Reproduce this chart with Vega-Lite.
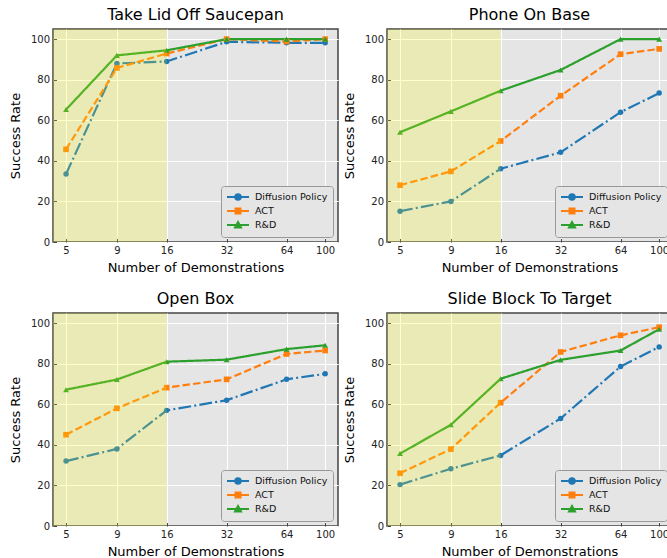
{
  "$schema": "https://vega.github.io/schema/vega-lite/v6.json",
  "padding": {"left": 8, "top": 6, "right": 0, "bottom": 0},
  "background": "white",
  "datasets": {
    "span": [{"region": "few demonstrations"}],
    "lid": [
      {"demos": 5, "method": "Diffusion Policy", "rate": 33.5},
      {"demos": 9, "method": "Diffusion Policy", "rate": 88},
      {"demos": 16, "method": "Diffusion Policy", "rate": 89},
      {"demos": 32, "method": "Diffusion Policy", "rate": 98.7},
      {"demos": 64, "method": "Diffusion Policy", "rate": 98.2},
      {"demos": 100, "method": "Diffusion Policy", "rate": 98.2},
      {"demos": 5, "method": "ACT", "rate": 45.7},
      {"demos": 9, "method": "ACT", "rate": 85.8},
      {"demos": 16, "method": "ACT", "rate": 92.9},
      {"demos": 32, "method": "ACT", "rate": 100},
      {"demos": 64, "method": "ACT", "rate": 98.8},
      {"demos": 100, "method": "ACT", "rate": 100},
      {"demos": 5, "method": "R&D", "rate": 65.3},
      {"demos": 9, "method": "R&D", "rate": 92},
      {"demos": 16, "method": "R&D", "rate": 94.5},
      {"demos": 32, "method": "R&D", "rate": 100},
      {"demos": 64, "method": "R&D", "rate": 100},
      {"demos": 100, "method": "R&D", "rate": 100}
    ],
    "phone": [
      {"demos": 5, "method": "Diffusion Policy", "rate": 15.2},
      {"demos": 9, "method": "Diffusion Policy", "rate": 20},
      {"demos": 16, "method": "Diffusion Policy", "rate": 36.1},
      {"demos": 32, "method": "Diffusion Policy", "rate": 44.2},
      {"demos": 64, "method": "Diffusion Policy", "rate": 64},
      {"demos": 100, "method": "Diffusion Policy", "rate": 73.4},
      {"demos": 5, "method": "ACT", "rate": 28},
      {"demos": 9, "method": "ACT", "rate": 34.8},
      {"demos": 16, "method": "ACT", "rate": 49.8},
      {"demos": 32, "method": "ACT", "rate": 72.1},
      {"demos": 64, "method": "ACT", "rate": 92.6},
      {"demos": 100, "method": "ACT", "rate": 95.2},
      {"demos": 5, "method": "R&D", "rate": 54.1},
      {"demos": 9, "method": "R&D", "rate": 64.4},
      {"demos": 16, "method": "R&D", "rate": 74.6},
      {"demos": 32, "method": "R&D", "rate": 84.8},
      {"demos": 64, "method": "R&D", "rate": 100},
      {"demos": 100, "method": "R&D", "rate": 100}
    ],
    "box": [
      {"demos": 5, "method": "Diffusion Policy", "rate": 32},
      {"demos": 9, "method": "Diffusion Policy", "rate": 38},
      {"demos": 16, "method": "Diffusion Policy", "rate": 57},
      {"demos": 32, "method": "Diffusion Policy", "rate": 62},
      {"demos": 64, "method": "Diffusion Policy", "rate": 72.3},
      {"demos": 100, "method": "Diffusion Policy", "rate": 75},
      {"demos": 5, "method": "ACT", "rate": 45},
      {"demos": 9, "method": "ACT", "rate": 58},
      {"demos": 16, "method": "ACT", "rate": 68.2},
      {"demos": 32, "method": "ACT", "rate": 72.3},
      {"demos": 64, "method": "ACT", "rate": 84.8},
      {"demos": 100, "method": "ACT", "rate": 86.5},
      {"demos": 5, "method": "R&D", "rate": 67.2},
      {"demos": 9, "method": "R&D", "rate": 72.2},
      {"demos": 16, "method": "R&D", "rate": 81},
      {"demos": 32, "method": "R&D", "rate": 82},
      {"demos": 64, "method": "R&D", "rate": 87.2},
      {"demos": 100, "method": "R&D", "rate": 89.1}
    ],
    "slide": [
      {"demos": 5, "method": "Diffusion Policy", "rate": 20.4},
      {"demos": 9, "method": "Diffusion Policy", "rate": 28.2},
      {"demos": 16, "method": "Diffusion Policy", "rate": 34.8},
      {"demos": 32, "method": "Diffusion Policy", "rate": 53},
      {"demos": 64, "method": "Diffusion Policy", "rate": 78.6},
      {"demos": 100, "method": "Diffusion Policy", "rate": 88.3},
      {"demos": 5, "method": "ACT", "rate": 26},
      {"demos": 9, "method": "ACT", "rate": 37.9},
      {"demos": 16, "method": "ACT", "rate": 60.8},
      {"demos": 32, "method": "ACT", "rate": 85.8},
      {"demos": 64, "method": "ACT", "rate": 94},
      {"demos": 100, "method": "ACT", "rate": 98},
      {"demos": 5, "method": "R&D", "rate": 35.7},
      {"demos": 9, "method": "R&D", "rate": 49.9},
      {"demos": 16, "method": "R&D", "rate": 72.6},
      {"demos": 32, "method": "R&D", "rate": 81.9},
      {"demos": 64, "method": "R&D", "rate": 86.5},
      {"demos": 100, "method": "R&D", "rate": 97}
    ]
  },
  "columns": 2,
  "spacing": {"column": 3, "row": 14},
  "resolve": {"legend": {"color": "independent"}},
  "concat": [
    {
      "title": "Take Lid Off Saucepan",
      "width": 285, "height": 213,
      "data": {"name": "lid"},
      "layer": [
        {"mark": {"type": "line", "strokeWidth": 2.2},
         "encoding": {
           "x": {"field": "demos", "type": "quantitative", "scale": {"type": "log", "domain": [4.3, 116], "nice": false}, "axis": {"values": [5, 9, 16, 32, 64, 100], "title": "Number of Demonstrations"}},
           "y": {"field": "rate", "type": "quantitative", "scale": {"domain": [0, 105], "nice": false}, "axis": {"values": [0, 20, 40, 60, 80, 100], "title": "Success Rate"}},
           "color": {"field": "method", "type": "nominal", "sort": ["Diffusion Policy", "ACT", "R&D"], "scale": {"domain": ["Diffusion Policy", "ACT", "R&D"], "range": ["#1f77b4", "#ff7f0e", "#2ca02c"]},
             "legend": {"title": null, "encode": {"symbols": {"update": {
               "shape": {"signal": "datum.value === 'ACT' ? 'M-1,0H3.4M0.7,-0.5H1.7V0.5H0.7Z' : datum.value === 'R&D' ? 'M-1,0H3.4M1.2,-0.6L1.8,0.5H0.6Z' : 'M-1,0H3.4M0.65,0A0.55,0.55 0 1,0 1.75,0A0.55,0.55 0 1,0 0.65,0Z'"},
               "fill": {"signal": "datum.value === 'ACT' ? '#ff7f0e' : datum.value === 'R&D' ? '#2ca02c' : '#1f77b4'"},
               "stroke": {"signal": "datum.value === 'ACT' ? '#ff7f0e' : datum.value === 'R&D' ? '#2ca02c' : '#1f77b4'"},
               "fillOpacity": {"value": 1}, "strokeOpacity": {"value": 1}, "strokeWidth": {"value": 2}, "strokeDash": {"value": []}}}}}},
           "strokeDash": {"field": "method", "type": "nominal", "scale": {"domain": ["Diffusion Policy", "ACT", "R&D"], "range": [[12.8, 3.2, 2, 3.2], [7.4, 3.2], [1, 0]]}, "legend": null}
         }},
        {"mark": {"type": "point", "filled": true, "opacity": 1},
         "encoding": {
           "x": {"field": "demos", "type": "quantitative"},
           "y": {"field": "rate", "type": "quantitative"},
           "color": {"field": "method", "type": "nominal"},
           "shape": {"field": "method", "type": "nominal", "scale": {"domain": ["Diffusion Policy", "ACT", "R&D"], "range": ["circle", "square", "triangle-up"]}, "legend": null},
           "size": {"field": "method", "type": "nominal", "scale": {"domain": ["Diffusion Policy", "ACT", "R&D"], "range": [30, 34, 32]}, "legend": null}
         }},
        {"data": {"name": "span"},
         "mark": {"type": "rect", "color": "#ffff00", "fillOpacity": 0.2},
         "encoding": {"x": {"datum": 4.3}, "x2": {"datum": 16}, "y": {"datum": 0}, "y2": {"datum": 105}}}
      ]
    },
    {
      "title": "Phone On Base",
      "width": 285, "height": 213,
      "data": {"name": "phone"},
      "layer": [
        {"mark": {"type": "line", "strokeWidth": 2.2},
         "encoding": {
           "x": {"field": "demos", "type": "quantitative", "scale": {"type": "log", "domain": [4.3, 116], "nice": false}, "axis": {"values": [5, 9, 16, 32, 64, 100], "title": "Number of Demonstrations"}},
           "y": {"field": "rate", "type": "quantitative", "scale": {"domain": [0, 105], "nice": false}, "axis": {"values": [0, 20, 40, 60, 80, 100], "title": "Success Rate"}},
           "color": {"field": "method", "type": "nominal", "sort": ["Diffusion Policy", "ACT", "R&D"], "scale": {"domain": ["Diffusion Policy", "ACT", "R&D"], "range": ["#1f77b4", "#ff7f0e", "#2ca02c"]},
             "legend": {"title": null, "encode": {"symbols": {"update": {
               "shape": {"signal": "datum.value === 'ACT' ? 'M-1,0H3.4M0.7,-0.5H1.7V0.5H0.7Z' : datum.value === 'R&D' ? 'M-1,0H3.4M1.2,-0.6L1.8,0.5H0.6Z' : 'M-1,0H3.4M0.65,0A0.55,0.55 0 1,0 1.75,0A0.55,0.55 0 1,0 0.65,0Z'"},
               "fill": {"signal": "datum.value === 'ACT' ? '#ff7f0e' : datum.value === 'R&D' ? '#2ca02c' : '#1f77b4'"},
               "stroke": {"signal": "datum.value === 'ACT' ? '#ff7f0e' : datum.value === 'R&D' ? '#2ca02c' : '#1f77b4'"},
               "fillOpacity": {"value": 1}, "strokeOpacity": {"value": 1}, "strokeWidth": {"value": 2}, "strokeDash": {"value": []}}}}}},
           "strokeDash": {"field": "method", "type": "nominal", "scale": {"domain": ["Diffusion Policy", "ACT", "R&D"], "range": [[12.8, 3.2, 2, 3.2], [7.4, 3.2], [1, 0]]}, "legend": null}
         }},
        {"mark": {"type": "point", "filled": true, "opacity": 1},
         "encoding": {
           "x": {"field": "demos", "type": "quantitative"},
           "y": {"field": "rate", "type": "quantitative"},
           "color": {"field": "method", "type": "nominal"},
           "shape": {"field": "method", "type": "nominal", "scale": {"domain": ["Diffusion Policy", "ACT", "R&D"], "range": ["circle", "square", "triangle-up"]}, "legend": null},
           "size": {"field": "method", "type": "nominal", "scale": {"domain": ["Diffusion Policy", "ACT", "R&D"], "range": [30, 34, 32]}, "legend": null}
         }},
        {"data": {"name": "span"},
         "mark": {"type": "rect", "color": "#ffff00", "fillOpacity": 0.2},
         "encoding": {"x": {"datum": 4.3}, "x2": {"datum": 16}, "y": {"datum": 0}, "y2": {"datum": 105}}}
      ]
    },
    {
      "title": "Open Box",
      "width": 285, "height": 213,
      "data": {"name": "box"},
      "layer": [
        {"mark": {"type": "line", "strokeWidth": 2.2},
         "encoding": {
           "x": {"field": "demos", "type": "quantitative", "scale": {"type": "log", "domain": [4.3, 116], "nice": false}, "axis": {"values": [5, 9, 16, 32, 64, 100], "title": "Number of Demonstrations"}},
           "y": {"field": "rate", "type": "quantitative", "scale": {"domain": [0, 105], "nice": false}, "axis": {"values": [0, 20, 40, 60, 80, 100], "title": "Success Rate"}},
           "color": {"field": "method", "type": "nominal", "sort": ["Diffusion Policy", "ACT", "R&D"], "scale": {"domain": ["Diffusion Policy", "ACT", "R&D"], "range": ["#1f77b4", "#ff7f0e", "#2ca02c"]},
             "legend": {"title": null, "encode": {"symbols": {"update": {
               "shape": {"signal": "datum.value === 'ACT' ? 'M-1,0H3.4M0.7,-0.5H1.7V0.5H0.7Z' : datum.value === 'R&D' ? 'M-1,0H3.4M1.2,-0.6L1.8,0.5H0.6Z' : 'M-1,0H3.4M0.65,0A0.55,0.55 0 1,0 1.75,0A0.55,0.55 0 1,0 0.65,0Z'"},
               "fill": {"signal": "datum.value === 'ACT' ? '#ff7f0e' : datum.value === 'R&D' ? '#2ca02c' : '#1f77b4'"},
               "stroke": {"signal": "datum.value === 'ACT' ? '#ff7f0e' : datum.value === 'R&D' ? '#2ca02c' : '#1f77b4'"},
               "fillOpacity": {"value": 1}, "strokeOpacity": {"value": 1}, "strokeWidth": {"value": 2}, "strokeDash": {"value": []}}}}}},
           "strokeDash": {"field": "method", "type": "nominal", "scale": {"domain": ["Diffusion Policy", "ACT", "R&D"], "range": [[12.8, 3.2, 2, 3.2], [7.4, 3.2], [1, 0]]}, "legend": null}
         }},
        {"mark": {"type": "point", "filled": true, "opacity": 1},
         "encoding": {
           "x": {"field": "demos", "type": "quantitative"},
           "y": {"field": "rate", "type": "quantitative"},
           "color": {"field": "method", "type": "nominal"},
           "shape": {"field": "method", "type": "nominal", "scale": {"domain": ["Diffusion Policy", "ACT", "R&D"], "range": ["circle", "square", "triangle-up"]}, "legend": null},
           "size": {"field": "method", "type": "nominal", "scale": {"domain": ["Diffusion Policy", "ACT", "R&D"], "range": [30, 34, 32]}, "legend": null}
         }},
        {"data": {"name": "span"},
         "mark": {"type": "rect", "color": "#ffff00", "fillOpacity": 0.2},
         "encoding": {"x": {"datum": 4.3}, "x2": {"datum": 16}, "y": {"datum": 0}, "y2": {"datum": 105}}}
      ]
    },
    {
      "title": "Slide Block To Target",
      "width": 285, "height": 213,
      "data": {"name": "slide"},
      "layer": [
        {"mark": {"type": "line", "strokeWidth": 2.2},
         "encoding": {
           "x": {"field": "demos", "type": "quantitative", "scale": {"type": "log", "domain": [4.3, 116], "nice": false}, "axis": {"values": [5, 9, 16, 32, 64, 100], "title": "Number of Demonstrations"}},
           "y": {"field": "rate", "type": "quantitative", "scale": {"domain": [0, 105], "nice": false}, "axis": {"values": [0, 20, 40, 60, 80, 100], "title": "Success Rate"}},
           "color": {"field": "method", "type": "nominal", "sort": ["Diffusion Policy", "ACT", "R&D"], "scale": {"domain": ["Diffusion Policy", "ACT", "R&D"], "range": ["#1f77b4", "#ff7f0e", "#2ca02c"]},
             "legend": {"title": null, "encode": {"symbols": {"update": {
               "shape": {"signal": "datum.value === 'ACT' ? 'M-1,0H3.4M0.7,-0.5H1.7V0.5H0.7Z' : datum.value === 'R&D' ? 'M-1,0H3.4M1.2,-0.6L1.8,0.5H0.6Z' : 'M-1,0H3.4M0.65,0A0.55,0.55 0 1,0 1.75,0A0.55,0.55 0 1,0 0.65,0Z'"},
               "fill": {"signal": "datum.value === 'ACT' ? '#ff7f0e' : datum.value === 'R&D' ? '#2ca02c' : '#1f77b4'"},
               "stroke": {"signal": "datum.value === 'ACT' ? '#ff7f0e' : datum.value === 'R&D' ? '#2ca02c' : '#1f77b4'"},
               "fillOpacity": {"value": 1}, "strokeOpacity": {"value": 1}, "strokeWidth": {"value": 2}, "strokeDash": {"value": []}}}}}},
           "strokeDash": {"field": "method", "type": "nominal", "scale": {"domain": ["Diffusion Policy", "ACT", "R&D"], "range": [[12.8, 3.2, 2, 3.2], [7.4, 3.2], [1, 0]]}, "legend": null}
         }},
        {"mark": {"type": "point", "filled": true, "opacity": 1},
         "encoding": {
           "x": {"field": "demos", "type": "quantitative"},
           "y": {"field": "rate", "type": "quantitative"},
           "color": {"field": "method", "type": "nominal"},
           "shape": {"field": "method", "type": "nominal", "scale": {"domain": ["Diffusion Policy", "ACT", "R&D"], "range": ["circle", "square", "triangle-up"]}, "legend": null},
           "size": {"field": "method", "type": "nominal", "scale": {"domain": ["Diffusion Policy", "ACT", "R&D"], "range": [30, 34, 32]}, "legend": null}
         }},
        {"data": {"name": "span"},
         "mark": {"type": "rect", "color": "#ffff00", "fillOpacity": 0.2},
         "encoding": {"x": {"datum": 4.3}, "x2": {"datum": 16}, "y": {"datum": 0}, "y2": {"datum": 105}}}
      ]
    }
  ],
  "config": {
    "font": "DejaVu Sans",
    "view": {"fill": "#e5e5e5", "stroke": "#444444", "strokeWidth": 1.5},
    "title": {"fontSize": 16, "fontWeight": "normal", "color": "#000000", "offset": 6, "font": "DejaVu Sans"},
    "axis": {
      "domain": false,
      "grid": true, "gridColor": "#ffffff", "gridWidth": 1, "gridOpacity": 1,
      "ticks": true, "tickColor": "#444444", "tickSize": -3.5, "tickWidth": 1,
      "labelFont": "DejaVu Sans", "labelFontSize": 10, "labelColor": "#222222", "labelPadding": 7,
      "titleFont": "DejaVu Sans", "titleFontSize": 13, "titleFontWeight": "normal", "titleColor": "#000000"
    },
    "axisX": {"titlePadding": 6},
    "axisY": {"titlePadding": 8},
    "legend": {
      "orient": "bottom-right", "offset": 5, "padding": 5,
      "fillColor": "#e5e5e5", "strokeColor": "#999999", "cornerRadius": 3,
      "labelFont": "DejaVu Sans", "labelFontSize": 9.5, "labelColor": "#111111",
      "symbolSize": 100, "labelOffset": 17, "rowPadding": 0,
      "symbolStrokeWidth": 2,
      "symbolType": "M-1,0H3.4"
    },
    "line": {"clip": true},
    "point": {"clip": true}
  }
}
